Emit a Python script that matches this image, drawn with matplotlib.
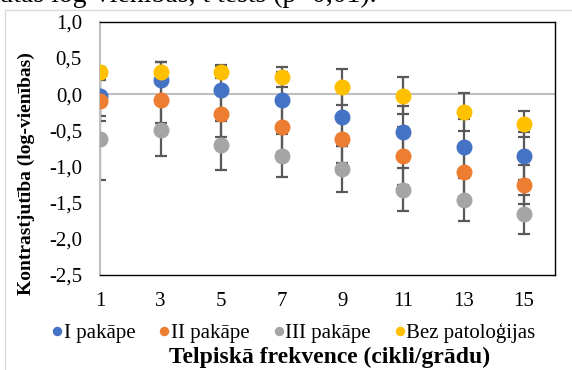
import numpy as np
import matplotlib
matplotlib.use("Agg")
import matplotlib.pyplot as plt
from matplotlib.patches import Rectangle

plt.rcParams['font.family'] = ['Liberation Serif', 'DejaVu Serif']

# telpiskā frekvence (cikli/grādu)
freq = [1, 3, 5, 7, 9, 11, 13, 15]

# vidējā kontrastjutība (log-vienības) un standartnovirzes
pak1 = [-0.02, 0.19, 0.06, -0.08, -0.31, -0.53, -0.73, -0.86]
pak1_err = [0.28, 0.26, 0.33, 0.38, 0.41, 0.37, 0.38, 0.33]
pak2 = [-0.09, -0.08, -0.27, -0.46, -0.62, -0.86, -1.08, -1.25]
pak2_err = [0.28, 0.32, 0.33, 0.34, 0.33, 0.40, 0.36, 0.27]
pak3 = [-0.62, -0.50, -0.71, -0.85, -1.04, -1.32, -1.46, -1.66]
pak3_err = [0.57, 0.36, 0.34, 0.30, 0.32, 0.30, 0.30, 0.27]
norma = [0.30, 0.31, 0.31, 0.24, 0.10, -0.02, -0.25, -0.42]
norma_err = [0.08, 0.14, 0.09, 0.14, 0.25, 0.26, 0.26, 0.18]

series = [
    ("I pakāpe", pak1, pak1_err, "#4472C4"),
    ("II pakāpe", pak2, pak2_err, "#ED7D31"),
    ("III pakāpe", pak3, pak3_err, "#A5A5A5"),
    ("Bez patoloģijas", norma, norma_err, "#FFC000"),
]

fig = plt.figure(figsize=(5.72, 3.70), dpi=100)
ax = fig.add_axes([100 / 572, 1 - 275 / 370, 455 / 572, 253.3 / 370])

for name, vals, err, col in series:
    ax.errorbar(freq, vals, yerr=err, fmt="none", ecolor="#595959",
                elinewidth=1.6, capsize=4.5, capthick=1.6, zorder=2)
for name, vals, err, col in series:
    ax.plot(freq, vals, "o", color=col, markersize=10.5, label=name,
            linestyle="none", zorder=3)

ax.set_xlim(1, 16.02)
ax.set_ylim(-2.5, 1.0)
ax.set_xticks(freq)
ax.set_xticklabels([str(f) for f in freq])
yt = np.arange(-2.5, 1.01, 0.5)
ax.set_yticks(yt)
ax.set_yticklabels([f"{v:.1f}".replace(".", ",") for v in yt])
ax.tick_params(length=0, labelsize=15)
ax.tick_params(axis="y", pad=13)
ax.tick_params(axis="x", pad=12)

ax.axhline(0, color="#BFBFBF", lw=1.5, zorder=1)
for s in ["top", "right", "bottom"]:
    ax.spines[s].set_color("black")
    ax.spines[s].set_linewidth(1.0)
ax.spines["left"].set_color("#BFBFBF")
ax.spines["left"].set_linewidth(1.5)
ax.spines["left"].set_zorder(2.5)

ax.legend(loc="center", bbox_to_anchor=(290 / 572, 1 - 333 / 370),
          bbox_transform=fig.transFigure, ncol=4, frameon=False,
          fontsize=15, handletextpad=-0.3, columnspacing=0.8,
          markerscale=0.55, handlelength=1.2, borderpad=0)

fig.text(330 / 572, 1 - 357 / 370, "Telpiskā frekvence (cikli/grādu)",
         ha="center", va="center", fontsize=17, fontweight="bold")
fig.text(26 / 572, 1 - 174 / 370, "Kontrastjutība (log-vienības)",
         ha="center", va="center", rotation=90, fontsize=14,
         fontweight="bold")

# paraksta apakšējā daļa virs diagrammas
fig.text(377 / 572, 1 - 2 / 370, "absolūtās log-vienības, t tests (p<0,01).",
         ha="right", va="baseline", fontsize=20)

# diagrammas ārējā rāmja mala
fig.patches.append(Rectangle((5 / 572, -0.1), 1.2, 1 - 10 / 370 + 0.1,
                             transform=fig.transFigure, fill=False,
                             edgecolor="#D9D9D9", linewidth=1.0))

plt.savefig("out.png", dpi=100)
